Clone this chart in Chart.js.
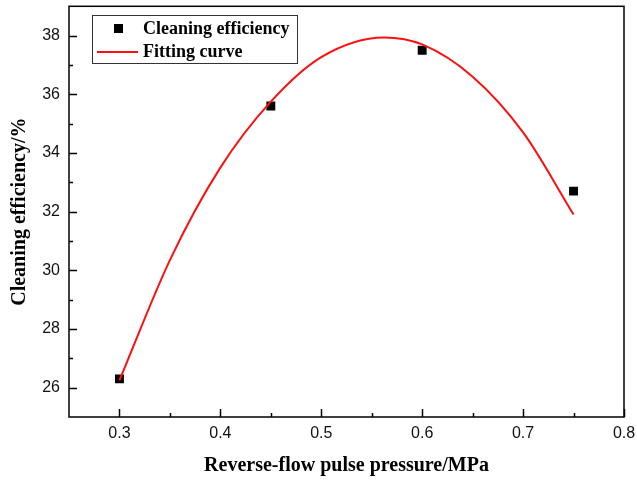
<!DOCTYPE html>
<html>
<head>
<meta charset="utf-8">
<script src="https://cdn.jsdelivr.net/npm/chart.js@4"></script>
<style>
  body { margin: 0; background: #fff; }
  #wrap { width: 637px; height: 480px; }
</style>
</head>
<body>
<div id="wrap"><canvas id="myChart"></canvas></div>
<script>
// measured points
var pressure = [0.3, 0.45, 0.6, 0.75];
var efficiency = [26.3, 35.6, 37.5, 32.7];

// fitting curve
var fitX = [0.3, 0.35, 0.4, 0.45, 0.5, 0.5625, 0.6, 0.65, 0.7, 0.75];
var fitY = [26.25, 30.35, 33.5, 35.75, 37.27, 37.94, 37.7, 36.6, 34.7, 31.9];

var xTicks = [0.3, 0.4, 0.5, 0.6, 0.7, 0.8];
var xMinor = [0.35, 0.45, 0.55, 0.65, 0.75];
var yTicks = [26, 28, 30, 32, 34, 36, 38];
var yMinor = [27, 29, 31, 33, 35, 37];

var serif = '"Liberation Serif", "Times New Roman", serif';
var sans = '"Liberation Sans", Arial, sans-serif';

var frameAndTicks = {
    id: 'frameAndTicks',
    afterDraw: function (chart) {
        var ctx = chart.ctx, a = chart.chartArea;
        var x = chart.scales.x, y = chart.scales.y;
        ctx.save();
        ctx.strokeStyle = '#000';
        ctx.lineWidth = 1.5;
        ctx.strokeRect(a.left, a.top, a.right - a.left, a.bottom - a.top);
        ctx.beginPath();
        xTicks.forEach(function (v) {
            var p = Math.round(x.getPixelForValue(v)) + 0.5;
            ctx.moveTo(p, a.bottom); ctx.lineTo(p, a.bottom - 8);
        });
        xMinor.forEach(function (v) {
            var p = Math.round(x.getPixelForValue(v)) + 0.5;
            ctx.moveTo(p, a.bottom); ctx.lineTo(p, a.bottom - 4);
        });
        yTicks.forEach(function (v) {
            var p = Math.round(y.getPixelForValue(v)) + 0.5;
            ctx.moveTo(a.left, p); ctx.lineTo(a.left + 8, p);
        });
        yMinor.forEach(function (v) {
            var p = Math.round(y.getPixelForValue(v)) + 0.5;
            ctx.moveTo(a.left, p); ctx.lineTo(a.left + 4, p);
        });
        ctx.stroke();

        // legend box inside the plot
        ctx.lineWidth = 1;
        ctx.strokeStyle = '#333';
        ctx.strokeRect(92.5, 15.5, 205, 48);
        ctx.fillStyle = '#000';
        ctx.fillRect(114, 24, 9, 9);
        ctx.strokeStyle = '#ff1010';
        ctx.lineWidth = 2;
        ctx.beginPath();
        ctx.moveTo(97, 52); ctx.lineTo(138, 52);
        ctx.stroke();
        ctx.fillStyle = '#000';
        ctx.font = 'bold 18px ' + serif;
        ctx.textBaseline = 'middle';
        ctx.textAlign = 'left';
        ctx.fillText('Cleaning efficiency', 143, 29);
        ctx.fillText('Fitting curve', 143, 52);
        ctx.restore();
    }
};

var ctx = document.getElementById('myChart').getContext('2d');
var myChart = new Chart(ctx, {
    type: 'scatter',
    data: {
        datasets: [{
            label: 'Fitting curve',
            data: fitX.map(function (v, i) { return { x: v, y: fitY[i] }; }),
            showLine: true,
            cubicInterpolationMode: 'monotone',
            borderColor: '#ff1010',
            borderWidth: 2,
            pointRadius: 0,
            fill: false,
            order: 0
        }, {
            label: 'Cleaning efficiency',
            data: pressure.map(function (v, i) { return { x: v, y: efficiency[i] }; }),
            pointStyle: 'rect',
            pointRadius: 6.3,
            pointBorderWidth: 0,
            backgroundColor: '#000',
            borderColor: '#000',
            order: 1
        }]
    },
    options: {
        responsive: true,
        maintainAspectRatio: false,
        animation: false,
        layout: { padding: { top: 6, right: 13, bottom: 0, left: 0 } },
        plugins: {
            legend: { display: false },
            tooltip: { enabled: false }
        },
        scales: {
            x: {
                type: 'linear',
                min: 0.25,
                max: 0.8,
                afterBuildTicks: function (s) { s.ticks = xTicks.map(function (v) { return { value: v }; }); },
                afterFit: function (s) { s.height = 63; s.paddingLeft = 0; s.paddingRight = 0; },
                grid: { display: false, drawTicks: false },
                border: { display: false },
                ticks: {
                    padding: 7,
                    color: '#111',
                    font: { family: sans, size: 16 },
                    callback: function (v) { return v.toFixed(1); }
                },
                title: {
                    display: true,
                    text: 'Reverse-flow pulse pressure/MPa',
                    color: '#000',
                    font: { family: serif, size: 20, weight: 'bold' },
                    padding: { top: 0, bottom: 2 }
                }
            },
            y: {
                min: 25,
                max: 39,
                afterBuildTicks: function (s) { s.ticks = yTicks.map(function (v) { return { value: v }; }); },
                afterFit: function (s) { s.width = 69; s.paddingTop = 0; s.paddingBottom = 0; },
                grid: { display: false, drawTicks: false },
                border: { display: false },
                ticks: {
                    padding: 9,
                    color: '#111',
                    font: { family: sans, size: 16 },
                    callback: function (v) { return v; }
                },
                title: {
                    display: true,
                    text: 'Cleaning efficiency/%',
                    color: '#000',
                    font: { family: serif, size: 20, weight: 'bold' },
                    padding: { top: 8, bottom: 0 }
                }
            }
        }
    },
    plugins: [frameAndTicks]
});
</script>
</body>
</html>
